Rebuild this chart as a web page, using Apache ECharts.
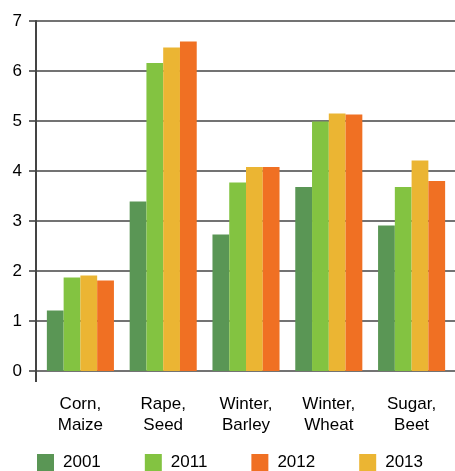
<!DOCTYPE html>
<html><head><meta charset="utf-8">
<script src="https://cdn.jsdelivr.net/npm/echarts@6/dist/echarts.min.js"></script>
<style>html,body{margin:0;padding:0;background:#fff}#c{width:455px;height:471px}</style>
</head><body><div id="c"></div>
<script>
const categories = ['Corn,\nMaize', 'Rape,\nSeed', 'Winter,\nBarley', 'Winter,\nWheat', 'Sugar,\nBeet'];
const v2001 = [1.21, 3.39, 2.73, 3.68, 2.91];
const v2011 = [1.87, 6.16, 3.77, 4.99, 3.68];
const v2012 = [1.81, 6.59, 4.08, 5.13, 3.80];
const v2013 = [1.91, 6.47, 4.08, 5.15, 4.21];
const yTicks = [0, 1, 2, 3, 4, 5, 6, 7];
const legendOrder = ['2001', '2011', '2012', '2013'];

const font = '"Liberation Sans", Arial, Helvetica, sans-serif';
const ink = '#000';
const lineCol = '#444';

const chart = echarts.init(document.getElementById('c'), null, {renderer: 'canvas'});
chart.setOption({
  animation: false,
  textStyle: {fontFamily: font},
  grid: [
    {left: 39, right: 2, top: 21, bottom: 100},
    {left: 36, right: 0, top: 21, bottom: 100}
  ],
  legend: {
    data: legendOrder,
    left: 37, top: 454, padding: 0,
    itemWidth: 17, itemHeight: 17, itemGap: 44,
    icon: 'rect',
    textStyle: {fontSize: 17, color: ink, fontFamily: font, width: 41, padding: [0, 0, 0, 4]}
  },
  xAxis: [
    {
      type: 'category', gridIndex: 0, data: categories,
      axisLine: {show: false}, axisTick: {show: false},
      axisLabel: {fontSize: 17, color: ink, fontFamily: font, lineHeight: 21, margin: 23, interval: 0}
    },
    {
      type: 'value', gridIndex: 1, min: 0, max: 1,
      axisLine: {show: false}, splitLine: {show: false}, axisLabel: {show: false},
      axisTick: {show: true, length: 11, customValues: [0], lineStyle: {color: lineCol, width: 2}}
    }
  ],
  yAxis: [
    {type: 'value', gridIndex: 0, min: 0, max: 7, interval: 1, show: false},
    {
      type: 'value', gridIndex: 1, min: 0, max: 7, interval: 1,
      axisLine: {show: true, lineStyle: {color: lineCol, width: 2}},
      axisTick: {show: true, length: 7, lineStyle: {color: lineCol, width: 1.6}},
      axisLabel: {fontSize: 17, color: ink, fontFamily: font, margin: 14,
        formatter: v => yTicks.includes(v) ? String(v) : ''},
      splitLine: {show: true, lineStyle: {color: lineCol, width: 1.6}}
    }
  ],
  series: [
    {name: '2001', type: 'bar', data: v2001, itemStyle: {color: '#5a9655'}, barGap: '0%', barCategoryGap: '19%', z: 3},
    {name: '2011', type: 'bar', data: v2011, itemStyle: {color: '#83c341'}, barGap: '0%', barCategoryGap: '19%', z: 3},
    {name: '2013', type: 'bar', data: v2013, itemStyle: {color: '#ebb533'}, barGap: '0%', barCategoryGap: '19%', z: 3},
    {name: '2012', type: 'bar', data: v2012, itemStyle: {color: '#f07023'}, barGap: '0%', barCategoryGap: '19%', z: 3}
  ]
});
</script></body></html>
